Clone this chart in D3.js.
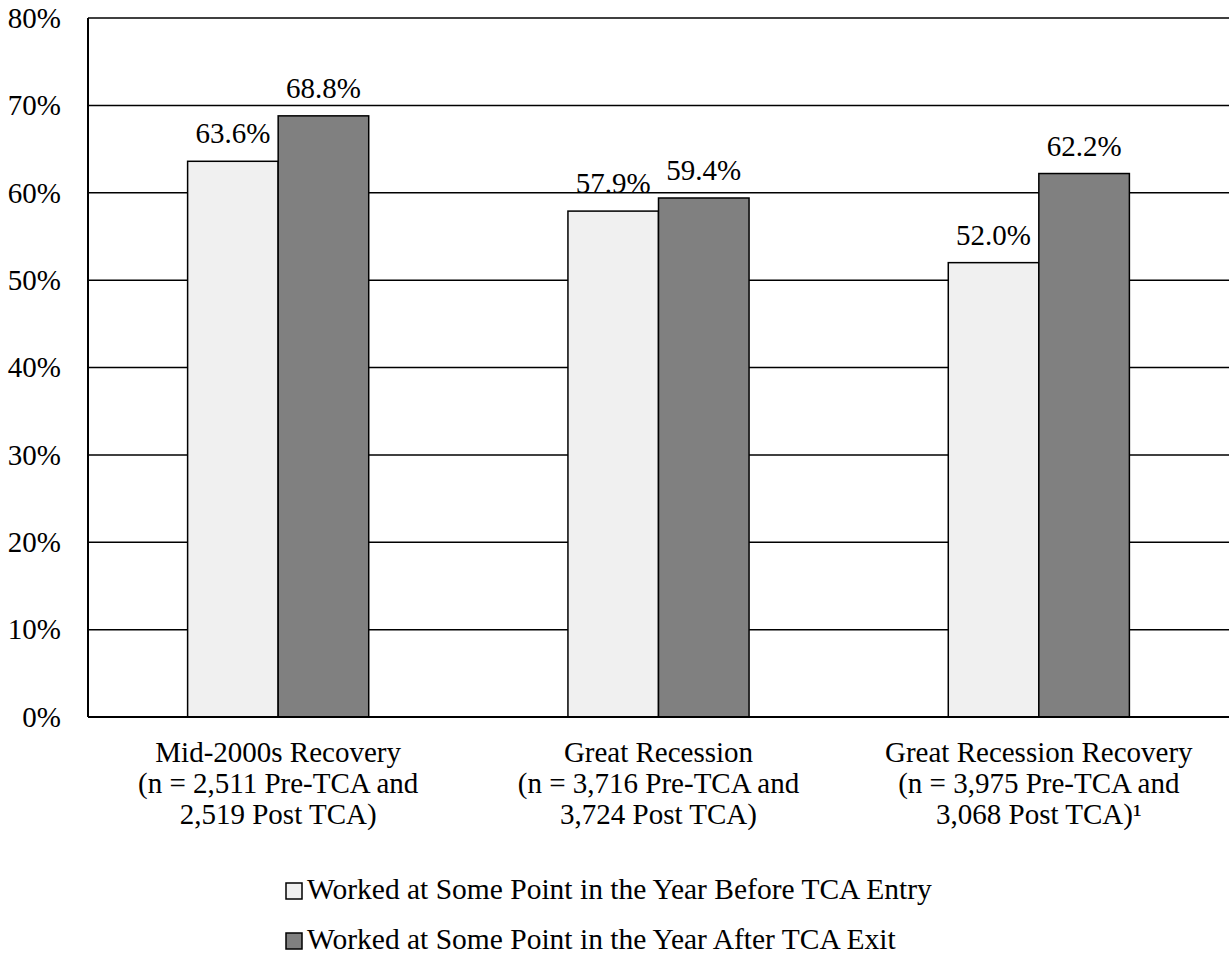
<!DOCTYPE html>
<html>
<head>
<meta charset="utf-8">
<script src="https://cdn.jsdelivr.net/npm/d3@7"></script>
<style>
  html, body { margin: 0; padding: 0; background: #fff; }
</style>
</head>
<body>
<svg id="chart" width="1230" height="957"></svg>
<script>
// Employment rates before TCA entry and after TCA exit, by economic period
const categories = [
  ["Mid-2000s Recovery", "(n = 2,511 Pre-TCA and", "2,519 Post TCA)"],
  ["Great Recession", "(n = 3,716 Pre-TCA and", "3,724 Post TCA)"],
  ["Great Recession Recovery", "(n = 3,975 Pre-TCA and", "3,068 Post TCA)\u00B9"]
];
const seriesNames = [
  "Worked at Some Point in the Year Before TCA Entry",
  "Worked at Some Point in the Year After TCA Exit"
];
const beforeEntry = [63.6, 57.9, 52.0];
const afterExit = [68.8, 59.4, 62.2];
const yTicks = [0, 10, 20, 30, 40, 50, 60, 70, 80];
const colors = ["#f0f0f0", "#808080"];

const FONT = "Liberation Serif";
const svg = d3.select("#chart");
const plot = { left: 88, right: 1229, top: 18, bottom: 717 };

const x0 = d3.scaleBand()
  .domain(d3.range(categories.length))
  .range([plot.left, plot.right]);

const x1 = d3.scaleBand()
  .domain([0, 1])
  .range([0, x0.bandwidth()])
  .paddingOuter(1.1);

const y = d3.scaleLinear().domain([0, 80]).range([plot.bottom, plot.top]);

// horizontal gridlines
svg.append("g").selectAll("line")
  .data(yTicks.filter(t => t > 0))
  .join("line")
  .attr("x1", plot.left).attr("x2", plot.right)
  .attr("y1", d => y(d)).attr("y2", d => y(d))
  .attr("stroke", "#000").attr("stroke-width", 1.5);

// y axis labels
const yAxis = d3.axisLeft(y).tickValues(yTicks).tickFormat(d => d + "%").tickSize(0).tickPadding(27);
const gy = svg.append("g").attr("transform", `translate(${plot.left},0)`).call(yAxis);
gy.select(".domain").remove();
gy.selectAll("text")
  .style("font-family", FONT)
  .style("font-size", "29px")
  .attr("fill", "#000");

const series = [beforeEntry, afterExit];

// bars
const groups = svg.append("g").selectAll("g")
  .data(categories.map((c, i) => i))
  .join("g")
  .attr("transform", i => `translate(${x0(i)},0)`);

groups.selectAll("rect")
  .data(i => series.map((s, k) => ({ k, v: s[i] })))
  .join("rect")
  .attr("x", d => x1(d.k))
  .attr("width", x1.bandwidth())
  .attr("y", d => y(d.v))
  .attr("height", d => y(0) - y(d.v))
  .attr("fill", d => colors[d.k])
  .attr("stroke", "#000").attr("stroke-width", 1.5);

// value labels
groups.selectAll("text.val")
  .data(i => series.map((s, k) => ({ k, v: s[i] })))
  .join("text")
  .attr("class", "val")
  .attr("x", d => x1(d.k) + x1.bandwidth() / 2)
  .attr("y", d => y(d.v) - 18)
  .attr("text-anchor", "middle")
  .style("font-family", FONT)
  .style("font-size", "29px")
  .text(d => d.v.toFixed(1) + "%");

// baseline and left axis
svg.append("line")
  .attr("x1", plot.left).attr("x2", plot.right)
  .attr("y1", y(0)).attr("y2", y(0))
  .attr("stroke", "#000").attr("stroke-width", 2);
svg.append("line")
  .attr("x1", plot.left).attr("x2", plot.left)
  .attr("y1", plot.top).attr("y2", plot.bottom)
  .attr("stroke", "#000").attr("stroke-width", 2);

// category labels
const catG = svg.append("g");
categories.forEach((lines, i) => {
  const cx = x0(i) + x0.bandwidth() / 2;
  const t = catG.append("text")
    .attr("text-anchor", "middle")
    .style("font-family", FONT)
    .style("font-size", "29px")
    .attr("x", cx)
    .attr("y", 762);
  lines.forEach((ln, j) => {
    t.append("tspan")
      .attr("x", cx)
      .attr("dy", j === 0 ? 0 : 31)
      .text(ln);
  });
});

// legend
const legend = svg.append("g").selectAll("g")
  .data(seriesNames)
  .join("g")
  .attr("transform", (d, i) => `translate(286, ${883 + i * 50})`);
legend.append("rect")
  .attr("width", 16).attr("height", 16)
  .attr("fill", (d, i) => colors[i])
  .attr("stroke", "#000").attr("stroke-width", 1.5);
legend.append("text")
  .attr("x", 21).attr("y", 16)
  .style("font-family", FONT)
  .style("font-size", "29.5px")
  .text(d => d);
</script>
</body>
</html>
